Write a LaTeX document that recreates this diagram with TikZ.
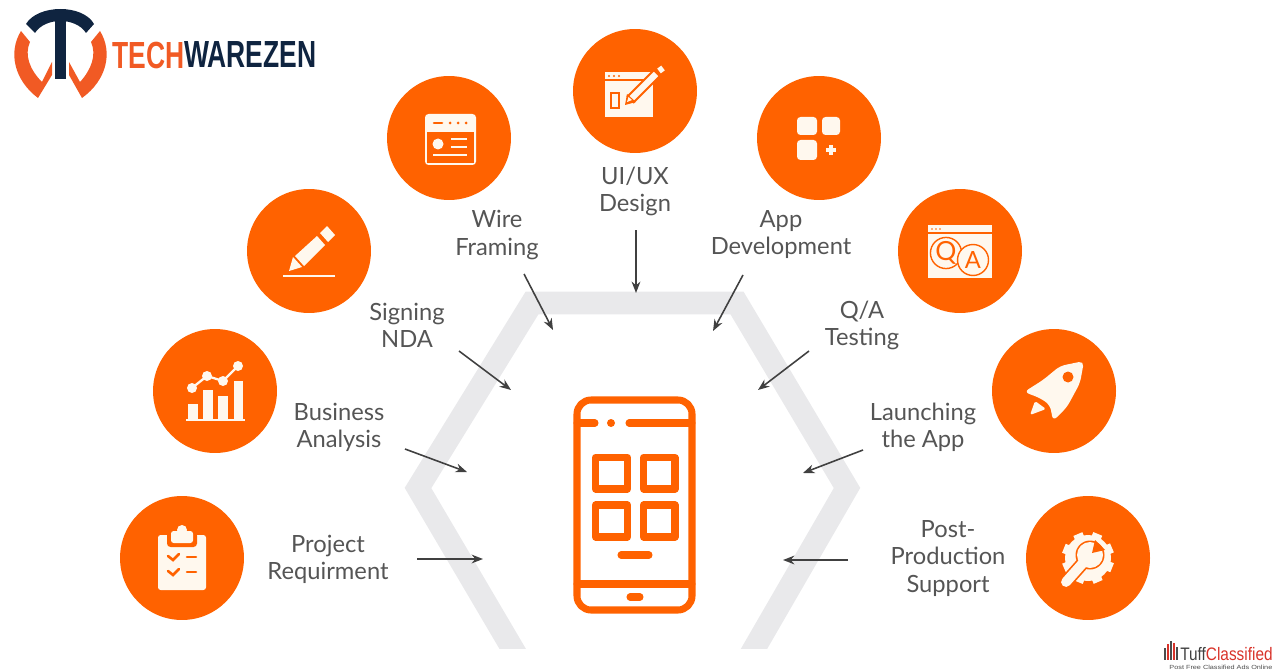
\documentclass[tikz,border=0pt]{standalone}
\usepackage{fontspec}
\setmainfont{Lato}
\newfontfamily\logofont{Liberation Sans}
\usetikzlibrary{arrows.meta}
\definecolor{brandorange}{HTML}{FF6200}
\definecolor{logoorange}{HTML}{F15A24}
\definecolor{logonavy}{HTML}{0F2440}
\definecolor{cream}{HTML}{FFF8EE}
\definecolor{hexgray}{HTML}{E9E9EB}
\definecolor{labelgray}{HTML}{555555}
\definecolor{tuffred}{HTML}{D8332A}
\tikzset{
  badge/.style={circle,fill=brandorange,inner sep=0pt,minimum size=2.48cm},
  steplabel/.style={align=center,text=labelgray,font=\fontsize{13.5}{15.4}\selectfont},
  flowarrow/.style={-{Stealth[length=6.5pt,width=5pt]},line width=0.9pt,draw=black!75},
  phoneline/.style={draw=brandorange,line width=4pt,line cap=round,line join=round},
  icon/.style={fill=cream,draw=none},
  iconcut/.style={draw=brandorange,line cap=round},
  logotext/.style={anchor=west,inner sep=0pt,font=\logofont\bfseries\fontsize{21.5}{21.5}\selectfont,xscale=0.7}
}
\begin{document}
\begin{tikzpicture}[x=0.02cm,y=-0.02cm]
    \useasboundingbox (0,0) rectangle (1280,672);

    \begin{scope}
        \clip (300,200) rectangle (1000,648);
        \draw[hexgray,line width=13pt,line join=miter] (531,680) -- (418,488) -- (532,303) -- (737,303) -- (847,488) -- (736,680);
    \end{scope}

    \node[badge] (project) at (182,558) {};
    \node[badge] (business) at (215,391) {};
    \node[badge] (signing) at (309,251) {};
    \node[badge] (wire) at (449,138) {};
    \node[badge] (uiux) at (635,91) {};
    \node[badge] (appdev) at (819,138) {};
    \node[badge] (qa) at (960,251) {};
    \node[badge] (launch) at (1054,391) {};
    \node[badge] (post) at (1088,558) {};

    \node[steplabel] (lproject) at (328,559) {Project\\Requirment};
    \node[steplabel] (lbusiness) at (339,427) {Business\\Analysis};
    \node[steplabel] (lsigning) at (407,325) {Signing\\NDA};
    \node[steplabel] (lwire) at (497,235) {Wire\\Framing};
    \node[steplabel] (luiux) at (635,191.5) {UI/UX\\Design};
    \node[steplabel] (lappdev) at (781,235) {App\\Development};
    \node[steplabel] (lqa) at (862,325) {Q/A\\Testing};
    \node[steplabel] (llaunch) at (923,427) {Launching\\the App};
    \node[steplabel] (lpost) at (948,558.5) {Post-\\Production\\Support};

    \coordinate (sproject) at (417,559);   \coordinate (tproject) at (483,559);
    \coordinate (sbusiness) at (405,449);  \coordinate (tbusiness) at (467,472);
    \coordinate (ssigning) at (459,351);   \coordinate (tsigning) at (511,390);
    \coordinate (swire) at (524,274);      \coordinate (twire) at (553,330);
    \coordinate (suiux) at (636,230);      \coordinate (tuiux) at (636,293);
    \coordinate (sappdev) at (743,275);    \coordinate (tappdev) at (713,331);
    \coordinate (sqa) at (809,351);        \coordinate (tqa) at (758,390);
    \coordinate (slaunch) at (863,450);    \coordinate (tlaunch) at (803,473);
    \coordinate (spost) at (848,560);      \coordinate (tpost) at (783,560);

    \draw[flowarrow] (sproject) -- (tproject);
    \draw[flowarrow] (sbusiness) -- (tbusiness);
    \draw[flowarrow] (ssigning) -- (tsigning);
    \draw[flowarrow] (swire) -- (twire);
    \draw[flowarrow] (suiux) -- (tuiux);
    \draw[flowarrow] (sappdev) -- (tappdev);
    \draw[flowarrow] (sqa) -- (tqa);
    \draw[flowarrow] (slaunch) -- (tlaunch);
    \draw[flowarrow] (spost) -- (tpost);

    % phone
    \draw[phoneline,rounded corners=8pt] (577,400) rectangle (692,610);
    \draw[phoneline] (577,423) -- (595,423);
    \draw[phoneline] (629,423) -- (692,423);
    \fill[brandorange] (611,423) circle (4);
    \draw[phoneline] (577,584) -- (692,584);
    \draw[phoneline] (630,597) -- (640,597);
    \draw[phoneline] (621,555) -- (649,555);
    \draw[phoneline] (595.5,457.5) rectangle (627.5,489);
    \draw[phoneline] (643.5,457.5) rectangle (675,489);
    \draw[phoneline] (595.5,505) rectangle (627.5,537);
    \draw[phoneline] (643.5,505) rectangle (675,537);

    % clipboard
    \begin{scope}[shift={(project)}]
        \fill[icon,rounded corners=1.5pt] (-24,-23) rectangle (24,32);
        \fill[brandorange,rounded corners=2pt] (-15,-26) rectangle (15,-11);
        \fill[icon,rounded corners=1.5pt] (-11,-27) rectangle (11,-15);
        \fill[icon] (0,-28) circle (5);
        \draw[iconcut,line width=1.5pt] (-14,-2) -- (-9,2) -- (-3,-4);
        \draw[iconcut,line width=1.5pt] (-14,13) -- (-9,17) -- (-3,11);
        \draw[iconcut,line width=1.5pt] (5,-1) -- (14,-1);
        \draw[iconcut,line width=1.5pt] (5,14) -- (14,14);
    \end{scope}

    % chart
    \begin{scope}[shift={(business)}]
        \fill[icon] (-27,13) rectangle (-17,28);
        \fill[icon] (-12,-1) rectangle (-2,28);
        \fill[icon] (3,5) rectangle (13,28);
        \fill[icon] (19,-10) rectangle (28,28);
        \draw[cream,line width=0.9pt] (-29,29) -- (30,29);
        \draw[cream,line width=1.3pt] (-23,-3) -- (-8,-15) -- (8,-10) -- (23,-25);
        \fill[icon] (-23,-3) circle (5);
        \fill[icon] (-8,-15) circle (5);
        \fill[icon] (8,-10) circle (5);
        \fill[icon] (23,-25) circle (5);
    \end{scope}

    % pencil
    \begin{scope}[shift={(signing)}]
        \fill[icon] (-20,20) -- (-16,6) -- (-7,16) -- cycle;
        \fill[icon] (-14,5) -- (8,-15) -- (16,-6) -- (-5,15) -- cycle;
        \fill[icon] (11,-18) -- (18,-25) -- (26,-16) -- (19,-9) -- cycle;
        \draw[cream,line width=1.2pt] (-26,25) -- (26,25);
    \end{scope}

    % wire frame window
    \begin{scope}[shift={(wire)}]
        \fill[icon,rounded corners=2pt] (-24,-24) rectangle (27,27);
        \fill[brandorange] (-22,-6) rectangle (25,25);
        \draw[iconcut,line width=1.5pt] (-15,-15) -- (-7,-15);
        \fill[brandorange] (1,-15) circle (1.5);
        \fill[brandorange] (9,-15) circle (1.5);
        \fill[brandorange] (17,-15) circle (1.5);
        \fill[icon] (-11,6) circle (5.5);
        \draw[cream,line width=1.2pt] (2,1) -- (18,1);
        \draw[cream,line width=1.2pt] (2,9) -- (18,9);
        \draw[cream,line width=1.2pt] (-16,17) -- (18,17);
    \end{scope}

    % design window
    \begin{scope}[shift={(uiux)}]
        \fill[icon] (-30,-19) rectangle (18,26);
        \draw[brandorange,line width=0.8pt] (-30,-11) -- (18,-11);
        \fill[brandorange] (-26,-15) circle (1.2);
        \fill[brandorange] (-21,-15) circle (1.2);
        \fill[brandorange] (-16,-15) circle (1.2);
        \draw[brandorange,line width=1.6pt] (-24,2) rectangle (-16,17);
        \draw[brandorange,line width=6pt] (-5,9) -- (21,-17);
        \draw[cream,line width=3.6pt] (-5,9) -- (21,-17);
        \fill[brandorange] (-10,14) -- (-8,3) -- (1,11) -- cycle;
        \fill[icon] (-8,11) -- (-6.5,6) -- (-3,9) -- cycle;
        \draw[cream,line width=3.4pt] (24,-20) -- (28,-23);
    \end{scope}

    % app blocks
    \begin{scope}[shift={(appdev)}]
        \fill[icon,rounded corners=2pt] (-22,-21) rectangle (-2,-3);
        \fill[icon,rounded corners=2pt] (3,-21) rectangle (21,-3);
        \fill[icon,rounded corners=2pt] (-22,2) rectangle (-2,22);
        \draw[cream,line width=2.2pt] (7,12) -- (17,12);
        \draw[cream,line width=2.2pt] (12,7) -- (12,17);
    \end{scope}

    % q and a window
    \begin{scope}[shift={(qa)}]
        \fill[icon] (-32,-26) rectangle (32,27);
        \draw[brandorange,line width=0.7pt] (-32,-18) -- (32,-18);
        \fill[brandorange] (-28,-22) circle (0.9);
        \fill[brandorange] (-24,-22) circle (0.9);
        \fill[brandorange] (-20,-22) circle (0.9);
        \node[circle,draw=brandorange,line width=0.8pt,fill=cream,minimum size=0.62cm,inner sep=0pt,text=brandorange,font=\fontsize{15}{15}\selectfont] (qglyph) at (-14,2) {Q};
        \node[circle,draw=brandorange,line width=0.8pt,fill=cream,minimum size=0.62cm,inner sep=0pt,text=brandorange,font=\fontsize{13.5}{13.5}\selectfont] (aglyph) at (13,9) {A};
    \end{scope}

    % rocket
    \begin{scope}[shift={(launch)}]
        \fill[icon,rounded corners=3pt] (30,-30) -- (26,-8) -- (13,16) -- (-1,30) -- (-4,14) -- (-14,7) -- (-30,1) -- (-11,-11) -- (6,-25) -- cycle;
        \fill[brandorange] (14,-14) circle (5.5);
        \fill[icon,rounded corners=1pt] (-24,24) -- (-19,10) -- (-8,18) -- cycle;
    \end{scope}

    % gear and wrench
    \begin{scope}[shift={(post)}]
        \fill[icon] (0,0) circle (23);
        \foreach \a in {0,45,...,315}
            \draw[cream,line width=5.5pt] (\a+22:18) -- (\a+22:26);
        \fill[brandorange] (2,-3) circle (14.5);
        \draw[brandorange,line width=7.5pt,line cap=round] (2,-3) -- (-22,24);
        \draw[cream,line width=5.6pt,line cap=round] (2,-3) -- (-22,24);
        \fill[icon] (2,-3) circle (13);
        \fill[brandorange] (4,-5) -- (7,-18) -- (17,-8) -- cycle;
    \end{scope}

    % logo
    \fill[logonavy] (26,24) .. controls (38,4) and (83,4) .. (94,24) -- (86,33) .. controls (76,17) and (45,17) .. (35,33) -- cycle;
    \fill[logonavy] (55,15) rectangle (66,79);
    \fill[logoorange] (21,31) .. controls (8,52) and (14,80) .. (38,98) -- (52,75) -- (52,62) -- (42,82) .. controls (30,70) and (24,55) .. (30,42) -- cycle;
    \fill[logoorange] (100,31) .. controls (113,52) and (107,80) .. (82,98) -- (69,75) -- (69,62) -- (80,82) .. controls (91,70) and (97,55) .. (91,42) -- cycle;
    \node[logotext,text=logoorange] (tech) at (112,55) {TECH};
    \node[logotext,text=logonavy] (ware) at (184,55) {WAREZEN};

    % watermark
    \fill[black!70] (1164,648) rectangle (1166,660);
    \fill[tuffred] (1167,644) rectangle (1169,660);
    \fill[black!70] (1170,641) rectangle (1172,660);
    \fill[tuffred] (1173,643) rectangle (1175,660);
    \fill[black!70] (1176,647) rectangle (1178,660);
    \node[anchor=base west,inner sep=0pt,font=\fontsize{10.3}{10.3}\selectfont\logofont,text=black!75,xscale=0.85] (tuff) at (1180,660) {Tuff\textcolor{tuffred}{Classified}};
    \node[anchor=base west,inner sep=0pt,font=\fontsize{3.4}{3.4}\selectfont\logofont,text=black!70,xscale=1.22] (tagline) at (1169,669) {Post Free Classified Ads Online};
\end{tikzpicture}
\end{document}
